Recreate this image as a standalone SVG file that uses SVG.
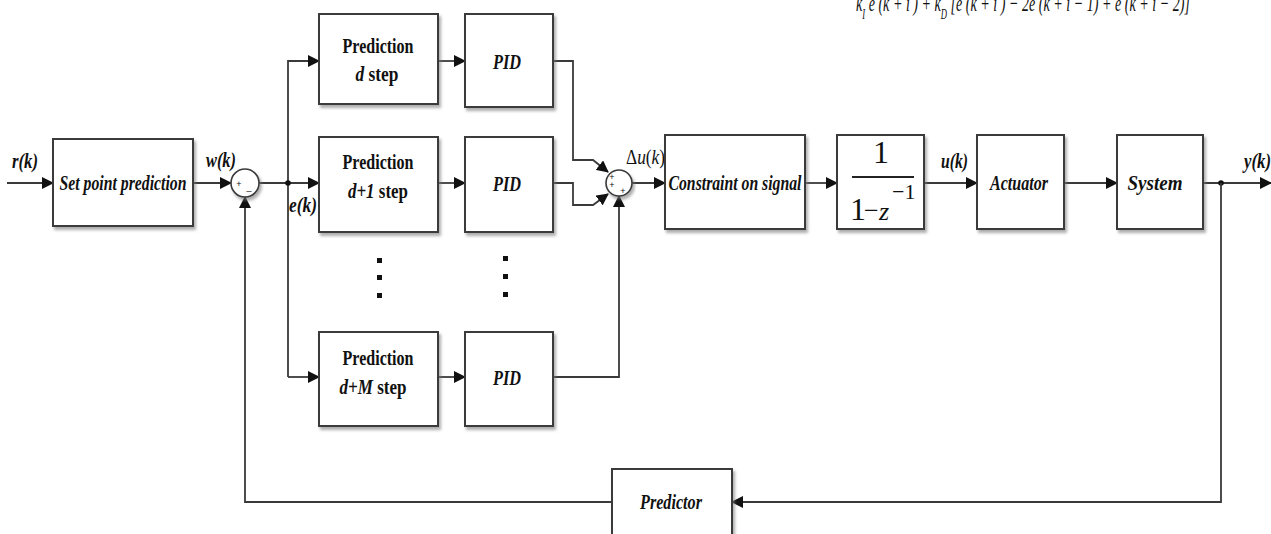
<svg xmlns="http://www.w3.org/2000/svg" width="1271" height="534" viewBox="0 0 1271 534">
<defs>
<filter id="sh" x="-10%" y="-10%" width="125%" height="130%">
<feDropShadow dx="2" dy="3" stdDeviation="1.8" flood-color="#777" flood-opacity="0.6"/>
</filter>
<marker id="ar" markerWidth="12" markerHeight="12" refX="11" refY="6" orient="auto" markerUnits="userSpaceOnUse">
<path d="M0,0 L12,6 L0,12 Z" fill="#111"/>
</marker>
</defs>
<style>
.box{fill:#fff;stroke:#3a3a3a;stroke-width:2;filter:url(#sh)}
.ln{fill:none;stroke:#3a3a3a;stroke-width:1.8}
.sum{fill:#fff;stroke:#3a3a3a;stroke-width:1.6;filter:url(#sh)}
.t{font-family:"Liberation Serif",serif;font-weight:bold;font-size:20px;fill:#111;text-anchor:middle}
.ti{font-family:"Liberation Serif",serif;font-weight:bold;font-style:italic;font-size:21px;fill:#111;text-anchor:middle}
.lb{font-family:"Liberation Serif",serif;font-weight:bold;font-style:italic;font-size:20px;fill:#111}
.sg{font-family:"Liberation Sans",sans-serif;font-size:9px;fill:#111;text-anchor:middle}
.fm{font-family:"Liberation Serif",serif;font-style:italic;font-size:23px;fill:#111}
.tf{font-family:"Liberation Serif",serif;font-size:32px;fill:#111}
.dot{fill:#111}
</style>

<g id="formula">
<text class="fm" x="856" y="11" textLength="334" lengthAdjust="spacingAndGlyphs">k<tspan dy="8" font-size="14">I</tspan><tspan dy="-8"> e (k + i ) + k</tspan><tspan dy="8" font-size="14">D</tspan><tspan dy="-8"> [e (k + i ) − 2e (k + i − 1) + e (k + i − 2)]</tspan></text>
</g>

<g id="connectors">
<line class="ln" x1="7" y1="183" x2="53" y2="183" marker-end="url(#ar)"/>
<line class="ln" x1="193" y1="183" x2="231" y2="183" marker-end="url(#ar)"/>
<line class="ln" x1="259" y1="183" x2="319" y2="183" marker-end="url(#ar)"/>
<polyline class="ln" points="288,377 288,61 319,61" marker-end="url(#ar)"/>
<line class="ln" x1="288" y1="377" x2="319" y2="377" marker-end="url(#ar)"/>
<circle class="dot" cx="288" cy="183" r="2.8"/>
<line class="ln" x1="438" y1="61" x2="465" y2="61" marker-end="url(#ar)"/>
<line class="ln" x1="438" y1="183" x2="465" y2="183" marker-end="url(#ar)"/>
<line class="ln" x1="438" y1="377" x2="465" y2="377" marker-end="url(#ar)"/>
<polyline class="ln" points="553,61 573,61 573,160 593,160 608,172" marker-end="url(#ar)"/>
<polyline class="ln" points="553,183 573,183 573,205 593,205 608,194" marker-end="url(#ar)"/>
<polyline class="ln" points="553,377 619,377 619,196" marker-end="url(#ar)"/>
<line class="ln" x1="632" y1="183" x2="665" y2="183" marker-end="url(#ar)"/>
<line class="ln" x1="805" y1="183" x2="837" y2="183" marker-end="url(#ar)"/>
<line class="ln" x1="924" y1="183" x2="977" y2="183" marker-end="url(#ar)"/>
<line class="ln" x1="1064" y1="183" x2="1117" y2="183" marker-end="url(#ar)"/>
<line class="ln" x1="1203" y1="183" x2="1271" y2="183" marker-end="url(#ar)"/>
<circle class="dot" cx="1221" cy="183" r="2.8"/>
<polyline class="ln" points="1221,183 1221,502 732,502" marker-end="url(#ar)"/>
<polyline class="ln" points="612,502 245,502 245,197" marker-end="url(#ar)"/>
</g>

<g id="labels">
<text class="lb" x="12" y="168" textLength="26" lengthAdjust="spacingAndGlyphs">r(k)</text>
<text class="lb" x="206" y="167" textLength="30" lengthAdjust="spacingAndGlyphs">w(k)</text>
<text class="lb" x="289" y="212" textLength="28" lengthAdjust="spacingAndGlyphs">e(k)</text>
<text x="626" y="164" font-family="Liberation Serif, serif" font-size="20" fill="#111" textLength="39" lengthAdjust="spacingAndGlyphs">Δ<tspan font-style="italic">u</tspan>(<tspan font-style="italic">k</tspan>)</text>
<text class="lb" x="941" y="168" textLength="27" lengthAdjust="spacingAndGlyphs">u(k)</text>
<text class="lb" x="1244" y="168" textLength="27" lengthAdjust="spacingAndGlyphs">y(k)</text>
</g>

<g id="setpoint">
<rect class="box" x="53" y="139" width="140" height="87"/>
<text class="ti" x="123" y="190" textLength="127" lengthAdjust="spacingAndGlyphs">Set point prediction</text>
</g>

<g id="sum1">
<circle class="sum" cx="245" cy="183" r="14"/>
<text class="sg" x="239" y="187">+</text>
<text class="sg" x="249" y="190">_</text>
</g>

<g id="pred-d">
<rect class="box" x="319" y="14" width="119" height="90"/>
<text class="t" x="378" y="53" textLength="71" lengthAdjust="spacingAndGlyphs">Prediction</text>
<text class="t" x="377" y="81" textLength="43" lengthAdjust="spacingAndGlyphs"><tspan font-style="italic">d</tspan> step</text>
</g>
<g id="pred-d1">
<rect class="box" x="319" y="137" width="119" height="95"/>
<text class="t" x="378" y="169" textLength="71" lengthAdjust="spacingAndGlyphs">Prediction</text>
<text class="t" x="378" y="198" textLength="60" lengthAdjust="spacingAndGlyphs"><tspan font-style="italic">d+1</tspan> step</text>
</g>
<g id="pred-dM">
<rect class="box" x="319" y="332" width="119" height="94"/>
<text class="t" x="378" y="365" textLength="71" lengthAdjust="spacingAndGlyphs">Prediction</text>
<text class="t" x="373" y="394" textLength="67" lengthAdjust="spacingAndGlyphs"><tspan font-style="italic">d+M</tspan> step</text>
</g>

<g id="pid1">
<rect class="box" x="465" y="14" width="88" height="93"/>
<text class="ti" x="507" y="69" textLength="28" lengthAdjust="spacingAndGlyphs">PID</text>
</g>
<g id="pid2">
<rect class="box" x="465" y="137" width="88" height="95"/>
<text class="ti" x="507" y="191" textLength="28" lengthAdjust="spacingAndGlyphs">PID</text>
</g>
<g id="pid3">
<rect class="box" x="465" y="332" width="88" height="94"/>
<text class="ti" x="507" y="385" textLength="28" lengthAdjust="spacingAndGlyphs">PID</text>
</g>

<g id="dots">
<rect class="dot" x="377" y="258" width="5" height="5"/>
<rect class="dot" x="377" y="275" width="5" height="5"/>
<rect class="dot" x="377" y="293" width="5" height="5"/>
<rect class="dot" x="503" y="256" width="5" height="5"/>
<rect class="dot" x="503" y="274" width="5" height="5"/>
<rect class="dot" x="503" y="292" width="5" height="5"/>
</g>

<g id="sum2">
<circle class="sum" cx="619" cy="183" r="13"/>
<text class="sg" x="612" y="180">+</text>
<text class="sg" x="612" y="188">+</text>
<text class="sg" x="623" y="194">+</text>
</g>

<g id="constraint">
<rect class="box" x="665" y="135" width="140" height="94"/>
<text class="ti" x="735" y="190" textLength="133" lengthAdjust="spacingAndGlyphs">Constraint on signal</text>
</g>

<g id="integrator">
<rect class="box" x="837" y="135" width="87" height="94"/>
<text class="tf" x="881" y="163" text-anchor="middle">1</text>
<line x1="852" y1="177" x2="914" y2="177" stroke="#222" stroke-width="1.8"/>
<text class="tf" x="850" y="220">1</text>
<text x="864" y="219" font-family="Liberation Serif, serif" font-size="26" fill="#111">−</text>
<text x="879" y="220" font-family="Liberation Serif, serif" font-style="italic" font-size="26" fill="#111">z</text>
<text x="892" y="199" font-family="Liberation Serif, serif" font-size="22" fill="#111">−1</text>
</g>

<g id="actuator">
<rect class="box" x="977" y="135" width="87" height="94"/>
<text class="ti" x="1019" y="190" textLength="58" lengthAdjust="spacingAndGlyphs">Actuator</text>
</g>

<g id="system">
<rect class="box" x="1117" y="135" width="86" height="94"/>
<text class="ti" x="1155" y="190" textLength="55" lengthAdjust="spacingAndGlyphs">System</text>
</g>

<g id="predictor">
<rect class="box" x="612" y="469" width="120" height="80"/>
<text class="ti" x="671" y="509" textLength="62" lengthAdjust="spacingAndGlyphs">Predictor</text>
</g>
</svg>
